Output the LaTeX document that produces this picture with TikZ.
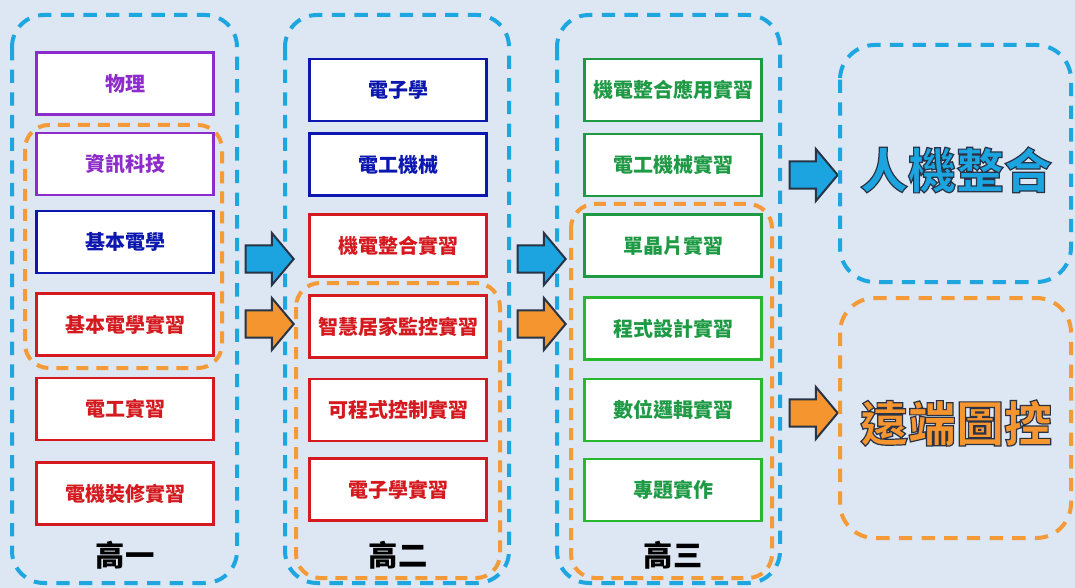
\documentclass[tikz,border=0pt]{standalone}
\usepackage{fontspec}
\setmainfont{Noto Sans CJK TC}
\usetikzlibrary{shapes.arrows}
\definecolor{bgcol}{HTML}{DDE7F3}
\definecolor{frameblue}{HTML}{1DA6DF}
\definecolor{frameorange}{HTML}{F49A36}
\definecolor{cpurple}{HTML}{8E2BCB}
\definecolor{cnavy}{HTML}{0B17AE}
\definecolor{cred}{HTML}{D41A1F}
\definecolor{cgreen}{HTML}{1E9A45}
\definecolor{cgreenb}{HTML}{27B830}
\definecolor{arrowedge}{HTML}{263445}
\definecolor{arrowblue}{HTML}{1BA4E0}
\definecolor{arroworange}{HTML}{F4952F}
\tikzset{
  course/.style={draw=#1, fill=white, line width=2.2pt, minimum width=133pt,
    minimum height=46.5pt, inner sep=0pt, font=\fontsize{15}{17}\selectfont\bfseries},
  yearframe/.style={draw=frameblue, line width=3pt, dash pattern=on 10pt off 7pt,
    rounded corners=24pt},
  groupframe/.style={draw=frameorange, line width=3pt, dash pattern=on 9pt off 6pt,
    rounded corners=18pt},
  yearlabel/.style={font=\fontsize{22}{24}\selectfont\bfseries},
  blockarrow/.style={single arrow, draw=arrowedge, fill=#1, line width=1.5pt,
    single arrow head extend=9.4pt, single arrow tip angle=100,
    inner xsep=0pt, inner ysep=9.4pt, minimum height=36pt},
  goal/.style={font=\fontsize{36}{42}\selectfont\bfseries}
}
% outlined text (fill + stroke)
\newcommand\outlinetext[1]{\special{pdf:literal direct 2 Tr 0.9 w 0.16 0.2 0.27 RG}#1\special{pdf:literal direct 0 Tr}}

\begin{document}
\begin{tikzpicture}[x=0.75pt, y=-0.75pt]
    % Background
    \fill[bgcol] (0,0) rectangle (1075,588);
    \useasboundingbox (0,0) rectangle (1075,588);

    % Year frames
    \draw[yearframe] (12,15) rectangle (237,583);
    \draw[yearframe] (285,15) rectangle (509,583);
    \draw[yearframe] (557,15) rectangle (780,583);

    % Grouped courses
    \draw[groupframe] (25,125) rectangle (222,368);
    \draw[groupframe] (296,283) rectangle (500,578);
    \draw[groupframe] (571,204) rectangle (772,578);

    % Courses, one column per year
    \foreach \txt/\edge/\ink/\y [count=\i] in {
        物理/cpurple/cpurple/83.5, 資訊科技/cpurple/cpurple/164,
        基本電學/cnavy/cnavy/242, 基本電學實習/cred/cred/324.5,
        電工實習/cred/cred/409, 電機裝修實習/cred/cred/493.5} {
        \node[course=\edge, text=\ink] (a\i) at (125,\y) {\txt};
    }
    \foreach \txt/\edge/\ink/\y [count=\i] in {
        電子學/cnavy/cnavy/90, 電工機械/cnavy/cnavy/164.5,
        機電整合實習/cred/cred/245.5, 智慧居家監控實習/cred/cred/326.5,
        可程式控制實習/cred/cred/410, 電子學實習/cred/cred/489.5} {
        \node[course=\edge, text=\ink] (b\i) at (398,\y) {\txt};
    }
    \foreach \txt/\edge/\ink/\y [count=\i] in {
        機電整合應用實習/cgreen/cgreen/90, 電工機械實習/cgreen/cgreen/165,
        單晶片實習/cgreen/cgreen/245.5, 程式設計實習/cgreenb/cgreen/328.5,
        數位邏輯實習/cgreenb/cgreen/410, 專題實作/cgreenb/cgreen/490} {
        \node[course=\edge, text=\ink] (c\i) at (673,\y) {\txt};
    }

    % Year labels
    \node[yearlabel] (l1) at (125,555) {高一};
    \node[yearlabel] (l2) at (398,555) {高二};
    \node[yearlabel] (l3) at (673,555) {高三};

    % Block arrows between the columns
    \node[blockarrow=arrowblue] (ab1) at (264,259) {};
    \node[blockarrow=arroworange] (ao1) at (264,324) {};
    \node[blockarrow=arrowblue] (ab2) at (536,259) {};
    \node[blockarrow=arroworange] (ao2) at (536,324) {};
    \node[blockarrow=arrowblue] (ab3) at (808,175) {};
    \node[blockarrow=arroworange] (ao3) at (808,413) {};

    % Goals
    \draw[yearframe, rounded corners=26pt] (840,45) rectangle (1071,282);
    \draw[groupframe, dash pattern=on 10pt off 7pt, rounded corners=26pt] (840,298) rectangle (1071,538);
    \node[goal, text=arrowblue] (g1) at (956,170) {\outlinetext{人機整合}};
    \node[goal, text=arroworange] (g2) at (956,423) {\outlinetext{遠端圖控}};
\end{tikzpicture}
\end{document}
